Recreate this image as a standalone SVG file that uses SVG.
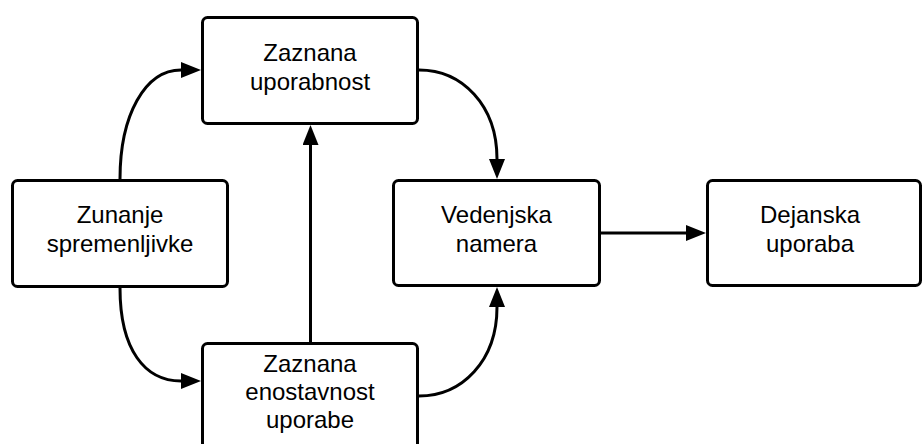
<svg xmlns="http://www.w3.org/2000/svg" width="923" height="444" viewBox="0 0 923 444">
  <style>
    .box { fill: #ffffff; stroke: #000000; stroke-width: 3; }
    .lbl { font-family: "Liberation Sans", Arial, sans-serif; font-size: 24px; fill: #000000; text-anchor: middle; }
    .wire { fill: none; stroke: #000000; stroke-width: 3; marker-end: url(#head); }
  </style>
  <defs>
    <marker id="head" markerUnits="userSpaceOnUse" markerWidth="20" markerHeight="16" viewBox="0 0 20 16" refX="0" refY="8" orient="auto">
      <path d="M0,0 L20,8 L0,16 Z" fill="#000000"/>
    </marker>
  </defs>
  <rect width="923" height="444" fill="#ffffff"/>

  <g id="connectors">
    <!-- Zunanje spremenljivke -> Zaznana uporabnost -->
    <path class="wire" d="M120,179 C120,115 145,70 181,70"/>
    <!-- Zunanje spremenljivke -> Zaznana enostavnost uporabe -->
    <path class="wire" d="M120,288 C120,350 145,381 181,381"/>
    <!-- Zaznana enostavnost uporabe -> Zaznana uporabnost -->
    <path class="wire" d="M310.5,342 L310.5,145"/>
    <!-- Zaznana uporabnost -> Vedenjska namera -->
    <path class="wire" d="M419,70 C462,70 497,105 497,159"/>
    <!-- Zaznana enostavnost uporabe -> Vedenjska namera -->
    <path class="wire" d="M419,396 C462,396 497,361 497,307"/>
    <!-- Vedenjska namera -> Dejanska uporaba -->
    <path class="wire" d="M601,233 L686,233"/>
  </g>

  <g id="node-zaznana-uporabnost">
    <rect class="box" x="202.5" y="17.5" width="215" height="106" rx="5"/>
    <text class="lbl" x="310" y="61">Zaznana</text>
    <text class="lbl" x="310" y="90">uporabnost</text>
  </g>

  <g id="node-zunanje-spremenljivke">
    <rect class="box" x="12.5" y="180.5" width="215" height="106" rx="5"/>
    <text class="lbl" x="120" y="223">Zunanje</text>
    <text class="lbl" x="120" y="252">spremenljivke</text>
  </g>

  <g id="node-vedenjska-namera">
    <rect class="box" x="393.5" y="180.5" width="206" height="105" rx="5"/>
    <text class="lbl" x="496.5" y="223">Vedenjska</text>
    <text class="lbl" x="496.5" y="252">namera</text>
  </g>

  <g id="node-dejanska-uporaba">
    <rect class="box" x="707.5" y="180.5" width="213" height="105" rx="5"/>
    <text class="lbl" x="810" y="223">Dejanska</text>
    <text class="lbl" x="810" y="252">uporaba</text>
  </g>

  <g id="node-zaznana-enostavnost">
    <rect class="box" x="202.5" y="343.5" width="215" height="106" rx="5"/>
    <text class="lbl" x="310" y="372">Zaznana</text>
    <text class="lbl" x="310" y="400">enostavnost</text>
    <text class="lbl" x="310" y="428">uporabe</text>
  </g>
</svg>
